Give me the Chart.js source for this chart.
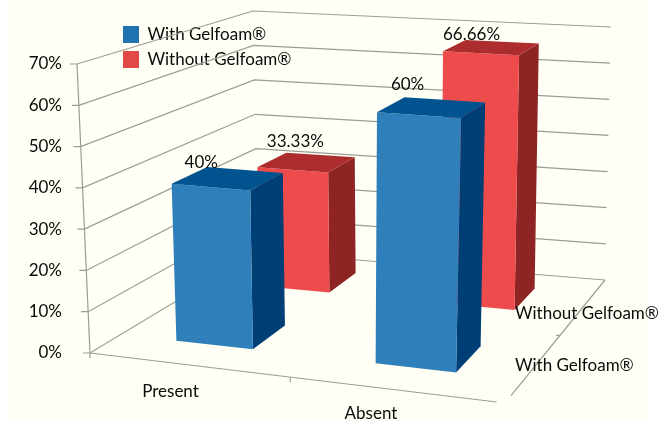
<!DOCTYPE html>
<html>
<head>
<meta charset="utf-8">
<title>Gelfoam chart</title>
<style>
  html, body { margin: 0; padding: 0; background: #fff; }
  canvas { display: block; }
</style>
<script src="https://cdn.jsdelivr.net/npm/chart.js@4/dist/chart.umd.min.js"></script>
</head>
<body>
<canvas id="chart" width="668" height="423"></canvas>
<script>
// data
const categories = ['Present', 'Absent'];
const seriesNames = ['With Gelfoam®', 'Without Gelfoam®'];
const withGelfoam = [40, 60];
const withoutGelfoam = [33.33, 66.66];
const tickLabels = ['0%', '10%', '20%', '30%', '40%', '50%', '60%', '70%'];

// series colours: front, top, side
const frontColors = ['#2f80ba', '#ee4c4c'];
const topColors = ['#01548f', '#ad2d2e'];
const sideColors = ['#003f76', '#8f2425'];
const legendColors = ['#1f73b0', '#e24846'];

// the 3D box of the plot: floor and ceiling corners (front/back, left/right)
const floor = { fl: [90, 353], fr: [505, 403], bl: [258, 252], br: [605, 280] };
const ceil = { fl: [77, 64], fr: [515, 92], bl: [253, 11], br: [611, 27] };
const seriesDepth = [[0.185, 0.405], [0.71, 0.89]];
const categoryShift = 0.0175;
// the left pair sits a little narrower and lower than the walls suggest
const categoryInset = [0.005, 0];
const categoryHeight = [0.97, 1];
const labelNudge = [[[-6, -4], [3, -13]], [[9, -11], [6, -5]]];
const categoryLabelNudge = [[-16, 27], [-23, 24]];
const depthLabelNudge = [-1, 9];
const FONT = 'Lato, sans-serif';

function bilerp(c, u, d, k) {
  return c.fl[k] * (1 - u) * (1 - d) + c.fr[k] * u * (1 - d) + c.bl[k] * (1 - u) * d + c.br[k] * u * d;
}

// u across the categories, d into the depth, t up the value axis (all 0..1)
function project(u, d, t) {
  return [
    bilerp(floor, u, d, 0) * (1 - t) + bilerp(ceil, u, d, 0) * t,
    bilerp(floor, u, d, 1) * (1 - t) + bilerp(ceil, u, d, 1) * t
  ];
}

function fillFace(ctx, pts, color) {
  ctx.beginPath();
  pts.forEach((p, i) => (i ? ctx.lineTo(p[0], p[1]) : ctx.moveTo(p[0], p[1])));
  ctx.closePath();
  ctx.fillStyle = color;
  ctx.fill();
}

function polyline(ctx, pts) {
  ctx.beginPath();
  pts.forEach((p, i) => (i ? ctx.lineTo(p[0], p[1]) : ctx.moveTo(p[0], p[1])));
  ctx.stroke();
}

// bar positions come from the library, only the drawing is swapped for a box
function barBox(chart, bar, datasetIndex, index) {
  const area = chart.chartArea;
  const u0 = (bar.x - bar.width / 2 - area.left) / area.width - categoryShift + categoryInset[index];
  const u1 = (bar.x + bar.width / 2 - area.left) / area.width - categoryShift - categoryInset[index];
  const [d0, d1] = seriesDepth[datasetIndex];
  const t = (bar.base - bar.y) / area.height * categoryHeight[index];
  return { u0, u1, d0, d1, t };
}

class Bar3dController extends Chart.BarController {
  draw() {
    const ctx = this._ctx;
    this._cachedMeta.data.forEach((bar, i) => {
      const { u0, u1, d0, d1, t } = barBox(this.chart, bar, this.index, i);
      fillFace(ctx, [project(u1, d0, 0), project(u1, d1, 0), project(u1, d1, t), project(u1, d0, t)], sideColors[this.index]);
      fillFace(ctx, [project(u0, d0, 0), project(u1, d0, 0), project(u1, d0, t), project(u0, d0, t)], frontColors[this.index]);
      fillFace(ctx, [project(u0, d0, t), project(u1, d0, t), project(u1, d1, t), project(u0, d1, t)], topColors[this.index]);
    });
  }
}
Bar3dController.id = 'bar3d';
Bar3dController.defaults = Chart.BarController.defaults;
Bar3dController.overrides = Chart.BarController.overrides;
Chart.register(Bar3dController);

const backdrop = {
  id: 'backdrop',
  beforeDraw(chart) {
    const ctx = chart.ctx;
    ctx.save();
    ctx.fillStyle = '#fffff5';
    ctx.fillRect(9, 0, 640, 421);
    ctx.restore();
  }
};

// walls, floor and tick marks follow the y scale's ticks
const walls = {
  id: 'walls',
  beforeDatasetsDraw(chart) {
    const ctx = chart.ctx;
    const yScale = chart.scales.y;
    const area = chart.chartArea;
    ctx.save();
    ctx.strokeStyle = '#9c9c96';
    ctx.lineWidth = 1.2;
    yScale.ticks.forEach((tick) => {
      const t = (area.bottom - yScale.getPixelForValue(tick.value)) / area.height;
      const a = project(0, 0, t);
      polyline(ctx, [[a[0] - 7, a[1]], a, project(0, 1, t), project(1, 1, t)]);
    });
    polyline(ctx, [project(0, 0, 1), project(0, 0, 0), [floor.fl[0], floor.fl[1] + 5]]);
    polyline(ctx, [project(0, 0, 0), project(0.98, 0, 0)]);
    polyline(ctx, [project(1, 1, 0), project(1, 0.06, 0)]);
    const mid = project(0.5 - categoryShift, 0, 0);
    polyline(ctx, [mid, [mid[0], mid[1] + 5]]);
    const depthMid = project(1, 0.55, 0);
    polyline(ctx, [[depthMid[0] - 4, depthMid[1]], depthMid]);
    ctx.restore();
  }
};

const textLabels = {
  id: 'textLabels',
  afterDatasetsDraw(chart) {
    const ctx = chart.ctx;
    const area = chart.chartArea;
    ctx.save();
    ctx.fillStyle = '#0a0a0a';
    ctx.font = '17px ' + FONT;
    ctx.textBaseline = 'middle';
    ctx.textAlign = 'center';
    chart.data.datasets.forEach((ds, di) => {
      chart.getDatasetMeta(di).data.forEach((bar, i) => {
        const { u0, d1, t } = barBox(chart, bar, di, i);
        const p = project(u0, d1, t);
        ctx.fillText(ds.data[i] + '%', p[0] + labelNudge[di][i][0], p[1] + labelNudge[di][i][1]);
      });
    });
    categories.forEach((name, i) => {
      const x = chart.scales.x.getPixelForValue(i);
      const p = project((x - area.left) / area.width - categoryShift, 0, 0);
      ctx.fillText(name, p[0] + categoryLabelNudge[i][0], p[1] + categoryLabelNudge[i][1]);
    });
    ctx.textAlign = 'left';
    seriesNames.forEach((name, i) => {
      const p = project(1, seriesDepth[i][0] * 0.5 + seriesDepth[i][1] * 0.5, 0);
      ctx.fillText(name, 515, p[1] + depthLabelNudge[i]);
    });
    ctx.restore();
  }
};

// the legend lives in the chart area by default, move it up to its corner
const legendSpot = {
  id: 'legendSpot',
  afterLayout(chart) {
    const lg = chart.legend;
    lg.left = 115;
    lg.right = 320;
    lg.top = 18;
    lg.bottom = 77;
  }
};

new Chart(document.getElementById('chart'), {
  type: 'bar3d',
  data: {
    labels: categories,
    datasets: [
      { label: seriesNames[0], data: withGelfoam, backgroundColor: legendColors[0], borderWidth: 0, grouped: false, clip: false, categoryPercentage: 0.4, barPercentage: 1 },
      { label: seriesNames[1], data: withoutGelfoam, backgroundColor: legendColors[1], borderWidth: 0, grouped: false, clip: false, categoryPercentage: 0.4, barPercentage: 1 }
    ]
  },
  options: {
    responsive: false,
    animation: false,
    layout: { padding: { top: 64, bottom: 70, left: 0, right: 163 } },
    plugins: {
      title: { display: false },
      tooltip: { enabled: false },
      legend: {
        position: 'chartArea',
        align: 'start',
        labels: { boxWidth: 16, boxHeight: 17, padding: 8, color: '#0a0a0a', font: { family: FONT, size: 17 } }
      }
    },
    scales: {
      x: { type: 'category', offset: true, display: false },
      y: {
        type: 'linear',
        min: 0,
        max: 70,
        afterFit(scale) { scale.width = 90; },
        grid: { display: false, drawTicks: false },
        border: { display: false },
        ticks: {
          stepSize: 10,
          padding: 28,
          color: '#0a0a0a',
          font: { family: FONT, size: 17 },
          callback: (value, i) => tickLabels[i]
        }
      }
    }
  },
  plugins: [backdrop, walls, textLabels, legendSpot]
});
</script>
</body>
</html>
